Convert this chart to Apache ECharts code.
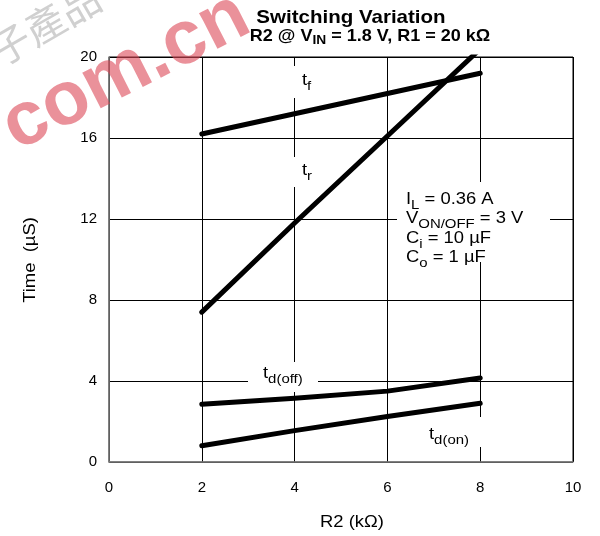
<!DOCTYPE html>
<html>
<head>
<meta charset="utf-8">
<script src="https://cdn.jsdelivr.net/npm/echarts@6/dist/echarts.min.js"></script>
<style>
html,body{margin:0;padding:0;background:#fff;}
#chart{width:600px;height:536px;}
</style>
</head>
<body>
<div id="chart"></div>
<script>
// ---- data ----
const r2Values = [2, 4, 6, 8];
const tfValues = [16.2, 17.2, 18.2, 19.2];
const trValues = [7.4, 11.8, 16.1, 20.4];
const tdOffValues = [2.85, 3.15, 3.5, 4.15];
const tdOnValues = [0.8, 1.55, 2.25, 2.9];
const xTicks = [0, 2, 4, 6, 8, 10];
const yTicks = [0, 4, 8, 12, 16, 20];

const FONT = '"Liberation Sans", Arial, sans-serif';
const SX = 1.15;

function pairs(xs, ys) { return xs.map((x, i) => [x, ys[i]]); }

function lineSeries(name, ys) {
  return {
    name: name, type: 'line', data: pairs(r2Values, ys),
    showSymbol: false, symbol: 'none', clip: true, z: 5,
    lineStyle: { color: '#000', width: 5, cap: 'round', join: 'round' }
  };
}

const chart = echarts.init(document.getElementById('chart'), null, { renderer: 'canvas' });

const mainRich = {
  m: { fontFamily: FONT, fontSize: 16, color: '#000' },
  s: { fontFamily: FONT, fontSize: 13, color: '#000', padding: [11, 0, 0, 0] }
};

function richText(x, y, text) {
  return {
    type: 'text', x: x, y: y, z: 20, scaleX: SX,
    style: { text: text, rich: mainRich, fill: '#000', font: '16px ' + FONT, align: 'left', verticalAlign: 'top' }
  };
}

function whiteRect(x, y, w, h) {
  return { type: 'rect', left: x, top: y, shape: { width: w, height: h }, style: { fill: '#fff' }, z: 15 };
}

const option = {
  backgroundColor: '#fff',
  animation: false,
  grid: { left: 109, right: 27, top: 57, bottom: 74, show: true, borderColor: '#000', borderWidth: 1, backgroundColor: 'transparent' },
  xAxis: {
    type: 'value', min: 0, max: 10, interval: 2,
    axisLine: { show: true, lineStyle: { color: '#808080', width: 1.5 } },
    axisTick: { show: false },
    axisLabel: { color: '#000', fontFamily: FONT, fontSize: 15, margin: 18,
      formatter: v => xTicks.includes(v) ? String(v) : '' },
    splitLine: { show: true, lineStyle: { color: '#000', width: 1 } }
  },
  yAxis: {
    type: 'value', min: 0, max: 20, interval: 4,
    axisLine: { show: true, lineStyle: { color: '#808080', width: 1.5 } },
    axisTick: { show: false },
    axisLabel: { color: '#000', fontFamily: FONT, fontSize: 15, margin: 12,
      formatter: v => yTicks.includes(v) ? String(v) : '' },
    splitLine: { show: true, lineStyle: { color: '#000', width: 1 } }
  },
  series: [
    lineSeries('tf', tfValues),
    lineSeries('tr', trValues),
    lineSeries('td(off)', tdOffValues),
    lineSeries('td(on)', tdOnValues)
  ],
  graphic: [
    // watermark
    { type: 'text', x: 126, y: 72, rotation: 27 * Math.PI / 180, z: 1,
      style: { text: 'com.cn', font: 'bold 76px ' + FONT, fill: 'rgba(220,72,86,0.6)', align: 'center', verticalAlign: 'middle' } },
    { type: 'text', x: 45, y: 24, rotation: 30 * Math.PI / 180, z: 1,
      style: { text: '子產品', font: '40px "Noto Sans CJK TC", sans-serif', fill: 'rgba(120,120,120,0.35)', align: 'center', verticalAlign: 'middle' } },
    // title
    { type: 'text', x: 351, y: 8, z: 30, scaleX: 1.08,
      style: { text: 'Switching Variation', font: 'bold 19px ' + FONT, fill: '#000', align: 'center', verticalAlign: 'top' } },
    { type: 'text', x: 370, y: 25, z: 30, scaleX: 1.06,
      style: { text: '{m|R2 @ V}{s|IN}{m| = 1.8 V, R1 = 20 k\u03A9}', align: 'center', verticalAlign: 'top',
        rich: { m: { fontFamily: FONT, fontWeight: 'bold', fontSize: 17, color: '#000' },
                s: { fontFamily: FONT, fontWeight: 'bold', fontSize: 13, color: '#000', padding: [9, 0, 0, 0] } } } },
    // axis names
    { type: 'text', x: 352, y: 523, z: 30, scaleX: SX, style: { text: 'R2 (k\u03A9)', font: '16px ' + FONT, fill: '#000', align: 'center', verticalAlign: 'middle' } },
    { type: 'text', x: 31, y: 260, rotation: Math.PI / 2, z: 30, scaleX: SX, style: { text: 'Time  (\u00B5S)', font: '16px ' + FONT, fill: '#000', align: 'center', verticalAlign: 'middle' } },
    // label backgrounds
    whiteRect(290, 66, 30, 32),
    whiteRect(290, 157, 30, 30),
    whiteRect(248, 362, 70, 30),
    whiteRect(418, 417, 64, 30),
    whiteRect(397, 182, 153, 80),
    // labels
    richText(302, 69, '{m|t}{s|f}'),
    richText(302, 159, '{m|t}{s|r}'),
    richText(263, 362, '{m|t}{s|d(off)}'),
    richText(429, 423, '{m|t}{s|d(on)}'),
    richText(406, 188, '{m|I}{s|L}{m| = 0.36 A}'),
    richText(406, 207, '{m|V}{s|ON/OFF}{m| = 3 V}'),
    richText(406, 227, '{m|C}{s|i}{m| = 10 \u00B5F}'),
    richText(406, 246, '{m|C}{s|o}{m| = 1 \u00B5F}')
  ]
};

chart.setOption(option);
</script>
</body>
</html>
